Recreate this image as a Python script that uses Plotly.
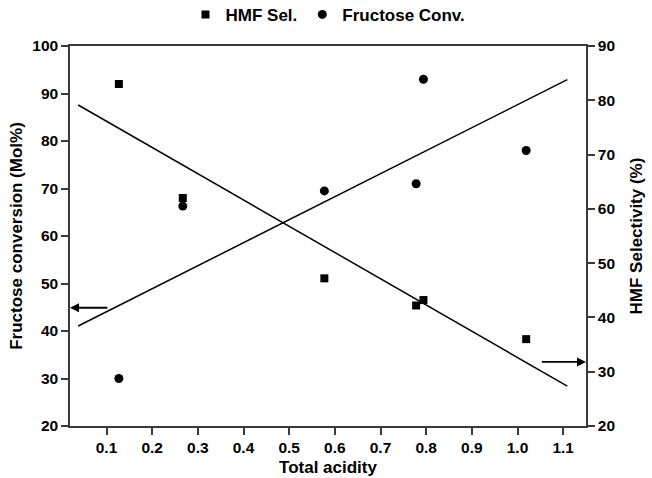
import numpy as np
import plotly.graph_objects as go

# Data
acidity = [0.127, 0.267, 0.577, 0.778, 0.794, 1.019]
fructose_conv = [30.0, 66.3, 69.5, 71.0, 93.0, 78.0]
hmf_sel = [83.0, 62.0, 47.2, 42.2, 43.2, 36.0]
fit_x_range = [0.038, 1.109]

x_ticks = [0.1, 0.2, 0.3, 0.4, 0.5, 0.6, 0.7, 0.8, 0.9, 1.0, 1.1]
x_tick_labels = ["0.1", "0.2", "0.3", "0.4", "0.5", "0.6", "0.7", "0.8", "0.9", "1.0", "1.1"]
y1_ticks = [20, 30, 40, 50, 60, 70, 80, 90, 100]
y2_ticks = [20, 30, 40, 50, 60, 70, 80, 90]

# Linear fits
fx = np.array(fit_x_range)
p_conv = np.polyfit(acidity, fructose_conv, 1)
p_sel = np.polyfit(acidity, hmf_sel, 1)

fig = go.Figure()
fig.add_trace(go.Scatter(x=acidity, y=hmf_sel, mode="markers", name="HMF Sel.",
                         marker=dict(symbol="square", size=8, color="black"), yaxis="y2"))
fig.add_trace(go.Scatter(x=acidity, y=fructose_conv, mode="markers", name="Fructose Conv.",
                         marker=dict(symbol="circle", size=9, color="black"), yaxis="y"))
fig.add_trace(go.Scatter(x=fx, y=np.polyval(p_conv, fx), mode="lines", showlegend=False,
                         line=dict(color="black", width=1.5), yaxis="y"))
fig.add_trace(go.Scatter(x=fx, y=np.polyval(p_sel, fx), mode="lines", showlegend=False,
                         line=dict(color="black", width=1.5), yaxis="y2"))

axis_color = "#3a3a3a"
fam = "Liberation Sans, Arial"
tickfont = dict(family=fam, size=15.5, color="black", weight="bold")
titlefont = dict(family=fam, size=17, color="black", weight="bold")

fig.update_layout(
    width=652, height=478,
    margin=dict(l=70, r=66, t=46, b=52, autoexpand=False),
    paper_bgcolor="white", plot_bgcolor="white",
    font=dict(family=fam, color="black", weight="bold"),
    showlegend=True,
    legend=dict(orientation="h", x=0.5, xanchor="center", y=1.082, yanchor="middle",
                font=dict(family=fam, size=17, color="black", weight="bold"),
                itemwidth=30, bgcolor="rgba(0,0,0,0)"),
    xaxis=dict(range=[0.02, 1.15], tickvals=x_ticks, ticktext=x_tick_labels,
               showline=True, linecolor=axis_color, linewidth=1.5, mirror=True,
               ticks="outside", ticklen=7, tickwidth=1.5, tickcolor=axis_color,
               showgrid=False, zeroline=False, tickfont=tickfont, automargin=False,
               title=dict(text="Total acidity", font=titlefont, standoff=6)),
    yaxis=dict(range=[20, 100], tickvals=y1_ticks,
               showline=True, linecolor=axis_color, linewidth=1.5,
               ticks="outside", ticklen=7, tickwidth=1.5, tickcolor=axis_color,
               showgrid=False, zeroline=False, tickfont=tickfont, automargin=False,
               title=dict(text="Fructose conversion (Mol%)", font=titlefont, standoff=5)),
    yaxis2=dict(range=[20, 90], tickvals=y2_ticks, overlaying="y", side="right",
                showline=True, linecolor=axis_color, linewidth=1.5,
                ticks="outside", ticklen=7, tickwidth=1.5, tickcolor=axis_color,
                showgrid=False, zeroline=False, tickfont=tickfont, automargin=False,
                title=dict(text="HMF Selectivity (%)", font=titlefont, standoff=16)),
)

# Arrows indicating the axis each fit belongs to
fig.add_annotation(x=0.02, y=44.9, ax=0.105, ay=44.9, xref="x", yref="y", axref="x", ayref="y",
                   showarrow=True, arrowhead=2, arrowsize=1, arrowwidth=1.8, arrowcolor="black", text="")
fig.add_annotation(x=1.15, y=31.8, ax=1.05, ay=31.8, xref="x", yref="y2", axref="x", ayref="y2",
                   showarrow=True, arrowhead=2, arrowsize=1, arrowwidth=1.8, arrowcolor="black", text="")

fig.write_html("out.html")
